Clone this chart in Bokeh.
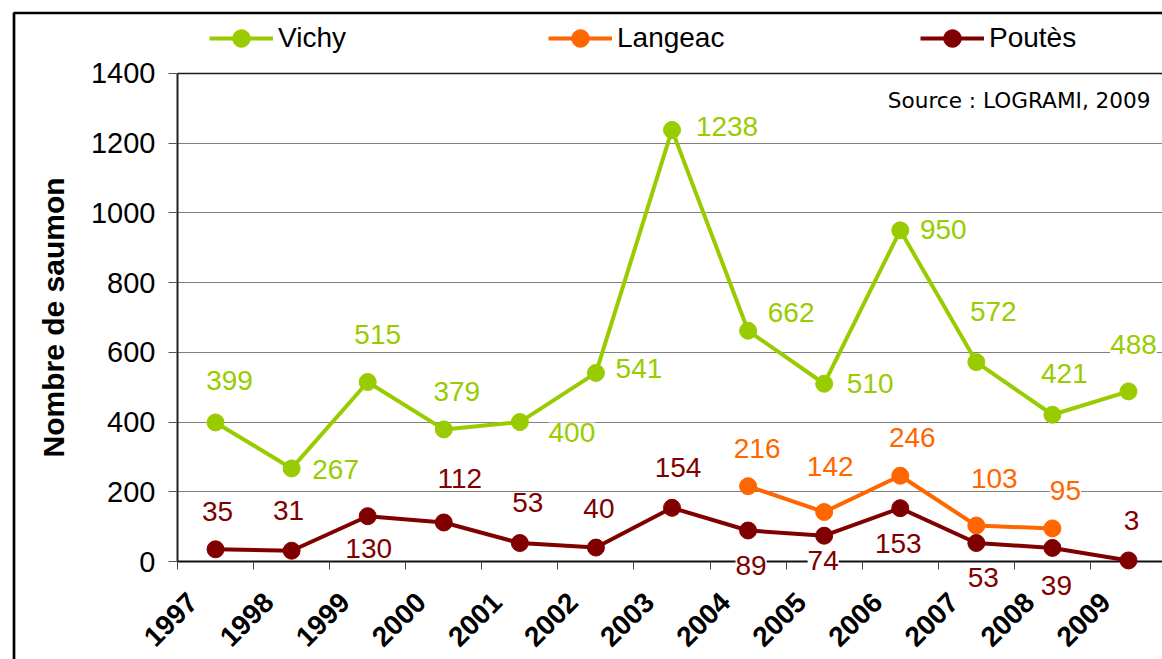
import math
from bokeh.plotting import figure
from bokeh.models import (ColumnDataSource, Range1d, FixedTicker, LabelSet, Legend,
                          LegendItem, Label, BoxAnnotation, LinearAxis)
from bokeh.core.properties import value
from bokeh.embed import file_html
from bokeh.resources import INLINE

# ---------------- data ----------------
years = [1997, 1998, 1999, 2000, 2001, 2002, 2003, 2004, 2005, 2006, 2007, 2008, 2009]
year_labels = [str(y) for y in years]
vichy = [399, 267, 515, 379, 400, 541, 1238, 662, 510, 950, 572, 421, 488]
langeac_years = [2004, 2005, 2006, 2007, 2008]
langeac = [216, 142, 246, 103, 95]
poutes = [35, 31, 130, 112, 53, 40, 154, 89, 74, 153, 53, 39, 3]
y_ticks = [0, 200, 400, 600, 800, 1000, 1200, 1400]

# label placement offsets in screen pixels (style, not data)
vichy_dx = [14, 44, 10, 13, 52, 43, 55, 43, 46, 43, 17, 12, 5]
vichy_dy = [42, -1, 47, 38, -10, 4, 3, 18, 0, 1, 51, 41, 47]
langeac_dx = [9, 6, 12, 18, 13]
langeac_dy = [38, 46, 38, 47, 38]
poutes_dx = [2, -3, 1, 16, 8, 3, 6, 3, -1, -2, 7, 4, 3]
poutes_dy = [38, 40, -32, 44, 41, 39, 40, -35, -25, -35, -34, -38, 40]

GREEN = "#99CC00"
ORANGE = "#FF6600"
MAROON = "#800000"
FONT = "Liberation Sans"

# ---------------- layout constants ----------------
W, H = 1162, 659
X_LEFT = 1996.5            # left edge of the category axis
X_RIGHT = 2009.5
X_VIEW = (1994.1735, 2009.4469)   # visible x extent (plot area spills past the right edge)
Y_VIEW = (-281.1, 1609.4)         # visible y extent (room for legend and year labels)
GRID_LEN = 985                    # px from axis to the right edge
BORDER_X = 1994.351
BORDER_Y = 1573.6

p = figure(width=W, height=H,
           x_range=Range1d(*X_VIEW), y_range=Range1d(*Y_VIEW),
           output_backend="svg", toolbar_location=None,
           min_border_left=0, min_border_right=0, min_border_top=0, min_border_bottom=0)
p.outline_line_color = None
p.background_fill_color = "white"
p.border_fill_color = "white"
p.xgrid.visible = False
p.ygrid.visible = False

# horizontal grid lines drawn as long inward ticks of hidden axes (so they start at the y axis)
def grid_axis(ticks, color, width):
    ax = LinearAxis(ticker=FixedTicker(ticks=ticks), fixed_location=X_LEFT)
    ax.major_tick_in = GRID_LEN
    ax.major_tick_out = 0
    ax.major_tick_line_color = color
    ax.major_tick_line_width = width
    ax.minor_tick_line_color = None
    ax.axis_line_color = None
    ax.major_label_text_alpha = 0
    ax.major_label_text_font_size = "1px"
    ax.level = "underlay"
    p.add_layout(ax, "left")
    return ax

grid_axis(y_ticks[1:-1], "#808080", 1)
grid_axis(y_ticks[-1:], "#1a1a1a", 1.6)

# y axis
yax = p.yaxis[0]
yax.fixed_location = X_LEFT
yax.bounds = (y_ticks[0], y_ticks[-1])
yax.ticker = FixedTicker(ticks=y_ticks)
yax.axis_line_color = "#222222"
yax.axis_line_width = 2
yax.major_tick_out = 9
yax.major_tick_in = 0
yax.major_tick_line_color = "#555555"
yax.minor_tick_line_color = None
yax.major_label_standoff = 13
yax.major_label_text_font = FONT
yax.major_label_text_font_size = "29px"
yax.major_label_text_color = "black"
yax.axis_label = "Nombre de saumon"
yax.axis_label_text_font = FONT
yax.axis_label_text_font_style = "bold"
yax.axis_label_text_font_size = "30px"
yax.axis_label_text_color = "black"
yax.axis_label_standoff = 18

# x axis: boundary ticks as minor ticks, labels shifted left of category centre
shift = 0.30
label_pos = [y - shift for y in years]
xax = p.xaxis[0]
xax.fixed_location = 0
xax.bounds = (X_LEFT, X_RIGHT)
xax.ticker = FixedTicker(ticks=label_pos, minor_ticks=[y - 0.5 for y in years] + [years[-1] + 0.5])
xax.major_label_overrides = {pos: lab for pos, lab in zip(label_pos, year_labels)}
xax.major_tick_line_color = None
xax.major_tick_out = 0
xax.major_tick_in = 0
xax.minor_tick_line_color = "#444444"
xax.minor_tick_out = 8
xax.minor_tick_in = 0
xax.axis_line_color = "#111111"
xax.axis_line_width = 2
xax.major_label_orientation = math.pi / 4
xax.major_label_standoff = 28
xax.major_label_text_font = FONT
xax.major_label_text_font_style = "bold"
xax.major_label_text_font_size = "28px"
xax.major_label_text_color = "black"
xax.level = "underlay"

# series
vsrc = ColumnDataSource(dict(x=years, y=vichy, t=[str(v) for v in vichy], dx=vichy_dx, dy=vichy_dy))
lsrc = ColumnDataSource(dict(x=langeac_years, y=langeac, t=[str(v) for v in langeac], dx=langeac_dx, dy=langeac_dy))
psrc = ColumnDataSource(dict(x=years, y=poutes, t=[str(v) for v in poutes], dx=poutes_dx, dy=poutes_dy))

renderers = {}
for name, src, col in [("Vichy", vsrc, GREEN), ("Langeac", lsrc, ORANGE), ("Poutès", psrc, MAROON)]:
    ln = p.line("x", "y", source=src, line_color=col, line_width=4)
    sc = p.scatter("x", "y", source=src, marker="circle", size=17, fill_color=col, line_color=col)
    renderers[name] = (ln, sc)

for src, col in [(vsrc, GREEN), (lsrc, ORANGE), (psrc, MAROON)]:
    ls = LabelSet(x="x", y="y", text="t", source=src, x_offset="dx", y_offset="dy",
                  text_align="center", text_baseline="middle", text_font=value(FONT),
                  text_font_size="28px", text_color=col,
                  background_fill_color="white", background_fill_alpha=1.0)
    p.add_layout(ls)

# legends (three separate entries spaced like the reference)
for name, loc in [("Vichy", (209, 599)), ("Langeac", (548, 599)), ("Poutès", (920, 599))]:
    lg = Legend(items=[LegendItem(label=name, renderers=list(renderers[name]))],
                location=loc, orientation="horizontal", glyph_width=64, glyph_height=44,
                label_standoff=5, padding=0, margin=0, spacing=0,
                background_fill_alpha=0, border_line_alpha=0,
                label_text_font=FONT, label_text_font_size="28px", label_text_color="black")
    p.add_layout(lg)

src_label = Label(x=2009.29, y=1322, text="Source : LOGRAMI, 2009", text_align="right",
                  text_baseline="middle", text_font="DejaVu Sans", text_font_size="21.6px",
                  text_color="black")
p.add_layout(src_label)

# outer chart border (its right and bottom edges lie outside the view)
p.add_layout(BoxAnnotation(left=BORDER_X, top=BORDER_Y, right=X_VIEW[1] + 1, bottom=Y_VIEW[0] - 100,
                           fill_alpha=0, line_color="black", line_width=2.7, line_alpha=1))

open("out.html", "w").write(file_html(p, INLINE))
